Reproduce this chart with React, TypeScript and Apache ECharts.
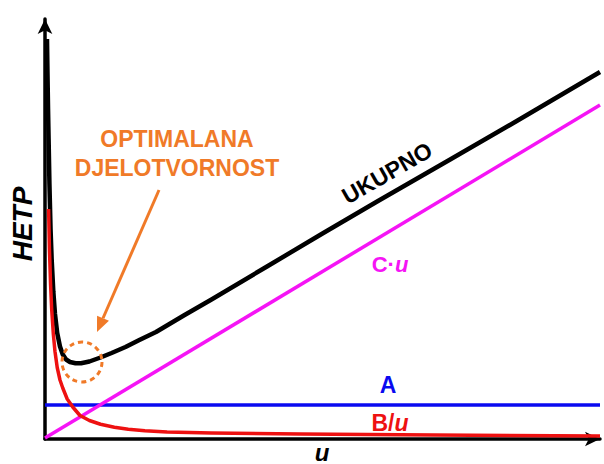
import React, { useEffect, useRef } from "react";
import * as echarts from "echarts";

// u axis (arbitrary units 0..10), HETP axis (arbitrary units 0..84)
const X_MAX = 10;
const Y_MAX = 84;

// A term (constant)
const aSeries: [number, number][] = [
  [0, 6.8],
  [10, 6.8],
];

// C·u term (linear)
const cSeries: [number, number][] = [
  [0, 0.2],
  [10, 66.8],
];

// B/u term
const bSeries: [number, number][] = [
  [0.065, 46],
  [0.08, 38],
  [0.1, 31],
  [0.12, 26],
  [0.15, 21],
  [0.18, 17.5],
  [0.22, 14.3],
  [0.27, 11.8],
  [0.32, 10.2],
  [0.4, 8.0],
  [0.5, 6.4],
  [0.63, 4.7],
  [0.8, 3.7],
  [1.0, 2.95],
  [1.25, 2.35],
  [1.5, 1.95],
  [1.8, 1.65],
  [2.2, 1.4],
  [3.0, 1.2],
  [4.6, 1.0],
  [7.0, 0.8],
  [10, 0.6],
];

// UKUPNO (total) curve
const totalSeries: [number, number][] = [
  [0.036, 80],
  [0.045, 73],
  [0.055, 66],
  [0.065, 60],
  [0.08, 51],
  [0.1, 42],
  [0.12, 36],
  [0.15, 29.5],
  [0.18, 25],
  [0.22, 21.2],
  [0.27, 18.5],
  [0.32, 16.9],
  [0.38, 15.9],
  [0.45, 15.4],
  [0.55, 15.15],
  [0.65, 15.15],
  [0.8, 15.5],
  [1.0, 16.3],
  [1.2, 17.2],
  [1.45, 18.4],
  [1.7, 19.8],
  [2.0, 21.4],
  [2.5, 24.7],
  [3.0, 27.9],
  [4.0, 34.5],
  [5.0, 41.1],
  [6.0, 47.6],
  [7.3, 55.9],
  [8.5, 63.6],
  [10, 73.4],
];

const labelTexts = {
  y: "HETP",
  x: "u",
  opt1: "OPTIMALANA",
  opt2: "DJELOTVORNOST",
  total: "UKUPNO",
};

const ORANGE = "#F07A28";
const BLUE = "#0A0AF0";
const MAGENTA = "#F514F5";
const RED = "#EE1111";

export default function App() {
  const ref = useRef<HTMLDivElement>(null);
  useEffect(() => {
    document.body.style.margin = "0";
    if (!ref.current) return;
    const chart = echarts.init(ref.current, undefined, { renderer: "svg" });

    // arrow geometry for annotation
    const tail = [159, 190];
    const tip = [97, 332];
    const dx = tip[0] - tail[0];
    const dy = tip[1] - tail[1];
    const len = Math.sqrt(dx * dx + dy * dy);
    const ux = dx / len;
    const uy = dy / len;
    const hl = 15;
    const hw = 6.5;
    const bx = tip[0] - ux * hl;
    const by = tip[1] - uy * hl;

    const font = "Liberation Sans, Arial, sans-serif";

    chart.setOption({
      animation: false,
      backgroundColor: "#ffffff",
      grid: { left: 45, right: 4, top: 19, bottom: 25 },
      xAxis: {
        type: "value",
        min: 0,
        max: X_MAX,
        axisLine: {
          show: true,
          symbol: ["none", "arrow"],
          symbolSize: [11, 15],
          lineStyle: { color: "#000", width: 3.5 },
        },
        axisTick: { show: false },
        axisLabel: { show: false },
        splitLine: { show: false },
      },
      yAxis: {
        type: "value",
        min: 0,
        max: Y_MAX,
        axisLine: {
          show: true,
          symbol: ["none", "arrow"],
          symbolSize: [11, 15],
          lineStyle: { color: "#000", width: 3.5 },
        },
        axisTick: { show: false },
        axisLabel: { show: false },
        splitLine: { show: false },
      },
      series: [
        {
          type: "line",
          data: aSeries,
          showSymbol: false,
          lineStyle: { color: BLUE, width: 3.5 },
          z: 2,
        },
        {
          type: "line",
          data: cSeries,
          showSymbol: false,
          lineStyle: { color: MAGENTA, width: 3.5 },
          z: 3,
        },
        {
          type: "line",
          data: totalSeries,
          showSymbol: false,
          lineStyle: { color: "#000", width: 4.5, join: "round" },
          z: 4,
        },
        {
          type: "line",
          data: bSeries,
          showSymbol: false,
          lineStyle: { color: RED, width: 3.5, join: "round" },
          z: 5,
        },
      ],
      graphic: [
        {
          type: "text",
          x: 22,
          y: 224,
          rotation: Math.PI / 2,
          style: {
            text: labelTexts.y,
            font: `italic bold 28px ${font}`,
            fill: "#000",
            align: "center",
            verticalAlign: "middle",
          },
        },
        {
          type: "text",
          x: 322,
          y: 452,
          style: {
            text: labelTexts.x,
            font: `italic bold 24px ${font}`,
            fill: "#000",
            align: "center",
            verticalAlign: "middle",
          },
        },
        {
          type: "text",
          x: 177,
          y: 139,
          style: {
            text: labelTexts.opt1,
            font: `bold 23px ${font}`,
            fill: ORANGE,
            align: "center",
            verticalAlign: "middle",
          },
        },
        {
          type: "text",
          x: 177,
          y: 168,
          style: {
            text: labelTexts.opt2,
            font: `bold 23px ${font}`,
            fill: ORANGE,
            align: "center",
            verticalAlign: "middle",
          },
        },
        {
          type: "line",
          shape: { x1: tail[0], y1: tail[1], x2: bx, y2: by },
          style: { stroke: ORANGE, lineWidth: 3 },
        },
        {
          type: "polygon",
          shape: {
            points: [
              [tip[0], tip[1]],
              [bx - uy * hw, by + ux * hw],
              [bx + uy * hw, by - ux * hw],
            ],
          },
          style: { fill: ORANGE },
        },
        {
          type: "circle",
          shape: { cx: 82, cy: 362, r: 20 },
          style: { fill: "none", stroke: ORANGE, lineWidth: 3, lineDash: [5, 4] },
          z: 10,
        },
        {
          type: "text",
          x: 387,
          y: 173,
          rotation: 0.52,
          style: {
            text: labelTexts.total,
            font: `bold 23px ${font}`,
            fill: "#000",
            align: "center",
            verticalAlign: "middle",
          },
        },
        {
          type: "text",
          x: 390,
          y: 264,
          style: {
            text: "{n|C·}{i|u}",
            align: "center",
            verticalAlign: "middle",
            rich: {
              n: { font: `bold 22px ${font}`, fill: MAGENTA },
              i: { font: `italic bold 22px ${font}`, fill: MAGENTA },
            },
          },
        },
        {
          type: "text",
          x: 388,
          y: 385,
          style: {
            text: "A",
            font: `bold 23px ${font}`,
            fill: BLUE,
            align: "center",
            verticalAlign: "middle",
          },
        },
        {
          type: "text",
          x: 390,
          y: 423,
          style: {
            text: "{n|B/}{i|u}",
            align: "center",
            verticalAlign: "middle",
            rich: {
              n: { font: `bold 23px ${font}`, fill: RED },
              i: { font: `italic bold 23px ${font}`, fill: RED },
            },
          },
        },
      ],
    });
    return () => chart.dispose();
  }, []);
  return <div ref={ref} style={{ width: 604, height: 464 }} />;
}
